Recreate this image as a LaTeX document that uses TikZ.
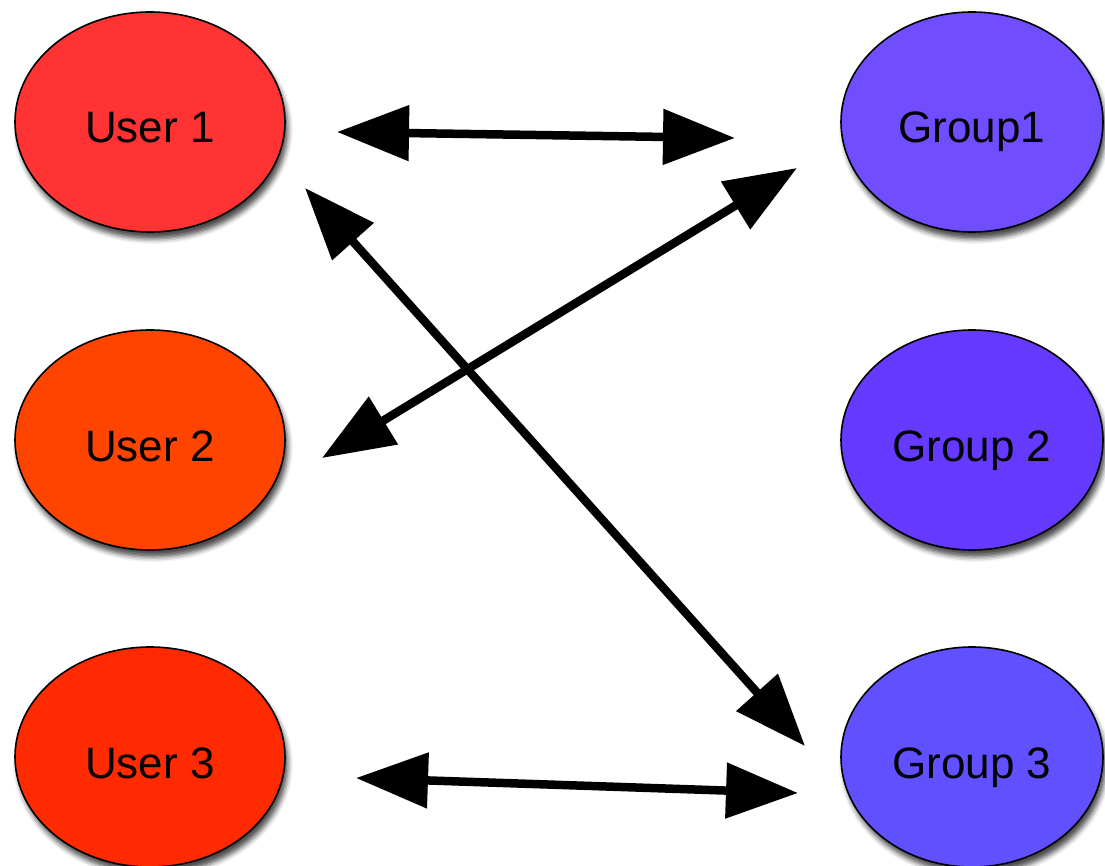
\documentclass[tikz,border=0pt]{standalone}
\usepackage{fontspec}
\setmainfont{Liberation Sans}
\usetikzlibrary{shapes.geometric,arrows.meta,shadows.blur,calc}

\definecolor{userA}{HTML}{FF3333}
\definecolor{userB}{HTML}{FF4400}
\definecolor{userC}{HTML}{FF2A00}
\definecolor{groupA}{HTML}{704DFF}
\definecolor{groupB}{HTML}{6639FF}
\definecolor{groupC}{HTML}{6050FF}

\tikzset{
  entity/.style={ellipse, draw=black, line width=1.6pt, inner sep=0pt,
    minimum width=270pt, minimum height=220pt,
    text height=42pt, text depth=0pt,
    font=\fontsize{44}{50}\selectfont,
    blur shadow={shadow xshift=3pt, shadow yshift=-7pt, shadow blur radius=5pt,
      shadow opacity=70}},
  groupent/.style={entity, minimum width=262pt},
  link/.style={line width=8.5pt, {Triangle[length=72pt,width=54pt]}-{Triangle[length=72pt,width=54pt]}}
}

\begin{document}
\begin{tikzpicture}[x=1pt, y=-1pt]
  \useasboundingbox (0,0) rectangle (1105,866);

  % users on the left
  \node[entity, fill=userA] (u1) at (150,122) {User 1};
  \node[entity, fill=userB] (u2) at (150,440) {User 2};
  \node[entity, fill=userC] (u3) at (150,757) {User 3};

  % groups on the right
  \node[groupent, fill=groupA] (g1) at (972,122) {Group1};
  \node[groupent, fill=groupB] (g2) at (972,440) {Group 2};
  \node[groupent, fill=groupC] (g3) at (972,757) {Group 3};

  % arrow ends, placed beside each ellipse
  \coordinate (u1r)  at ($(u1.center)+(187,10)$);
  \coordinate (g1l)  at ($(g1.center)+(-237,16)$);
  \coordinate (u1d)  at ($(u1.center)+(155,66)$);
  \coordinate (g3u)  at ($(g3.center)+(-167,-11)$);
  \coordinate (u2r)  at ($(u2.center)+(172,18)$);
  \coordinate (g1d)  at ($(g1.center)+(-175,46)$);
  \coordinate (u3r)  at ($(u3.center)+(206,21)$);
  \coordinate (g3l)  at ($(g3.center)+(-174,36)$);

  % memberships
  \draw[link] (u1r) -- (g1l);
  \draw[link] (u2r) -- (g1d);
  \draw[link] (u1d) -- (g3u);
  \draw[link] (u3r) -- (g3l);
\end{tikzpicture}
\end{document}
